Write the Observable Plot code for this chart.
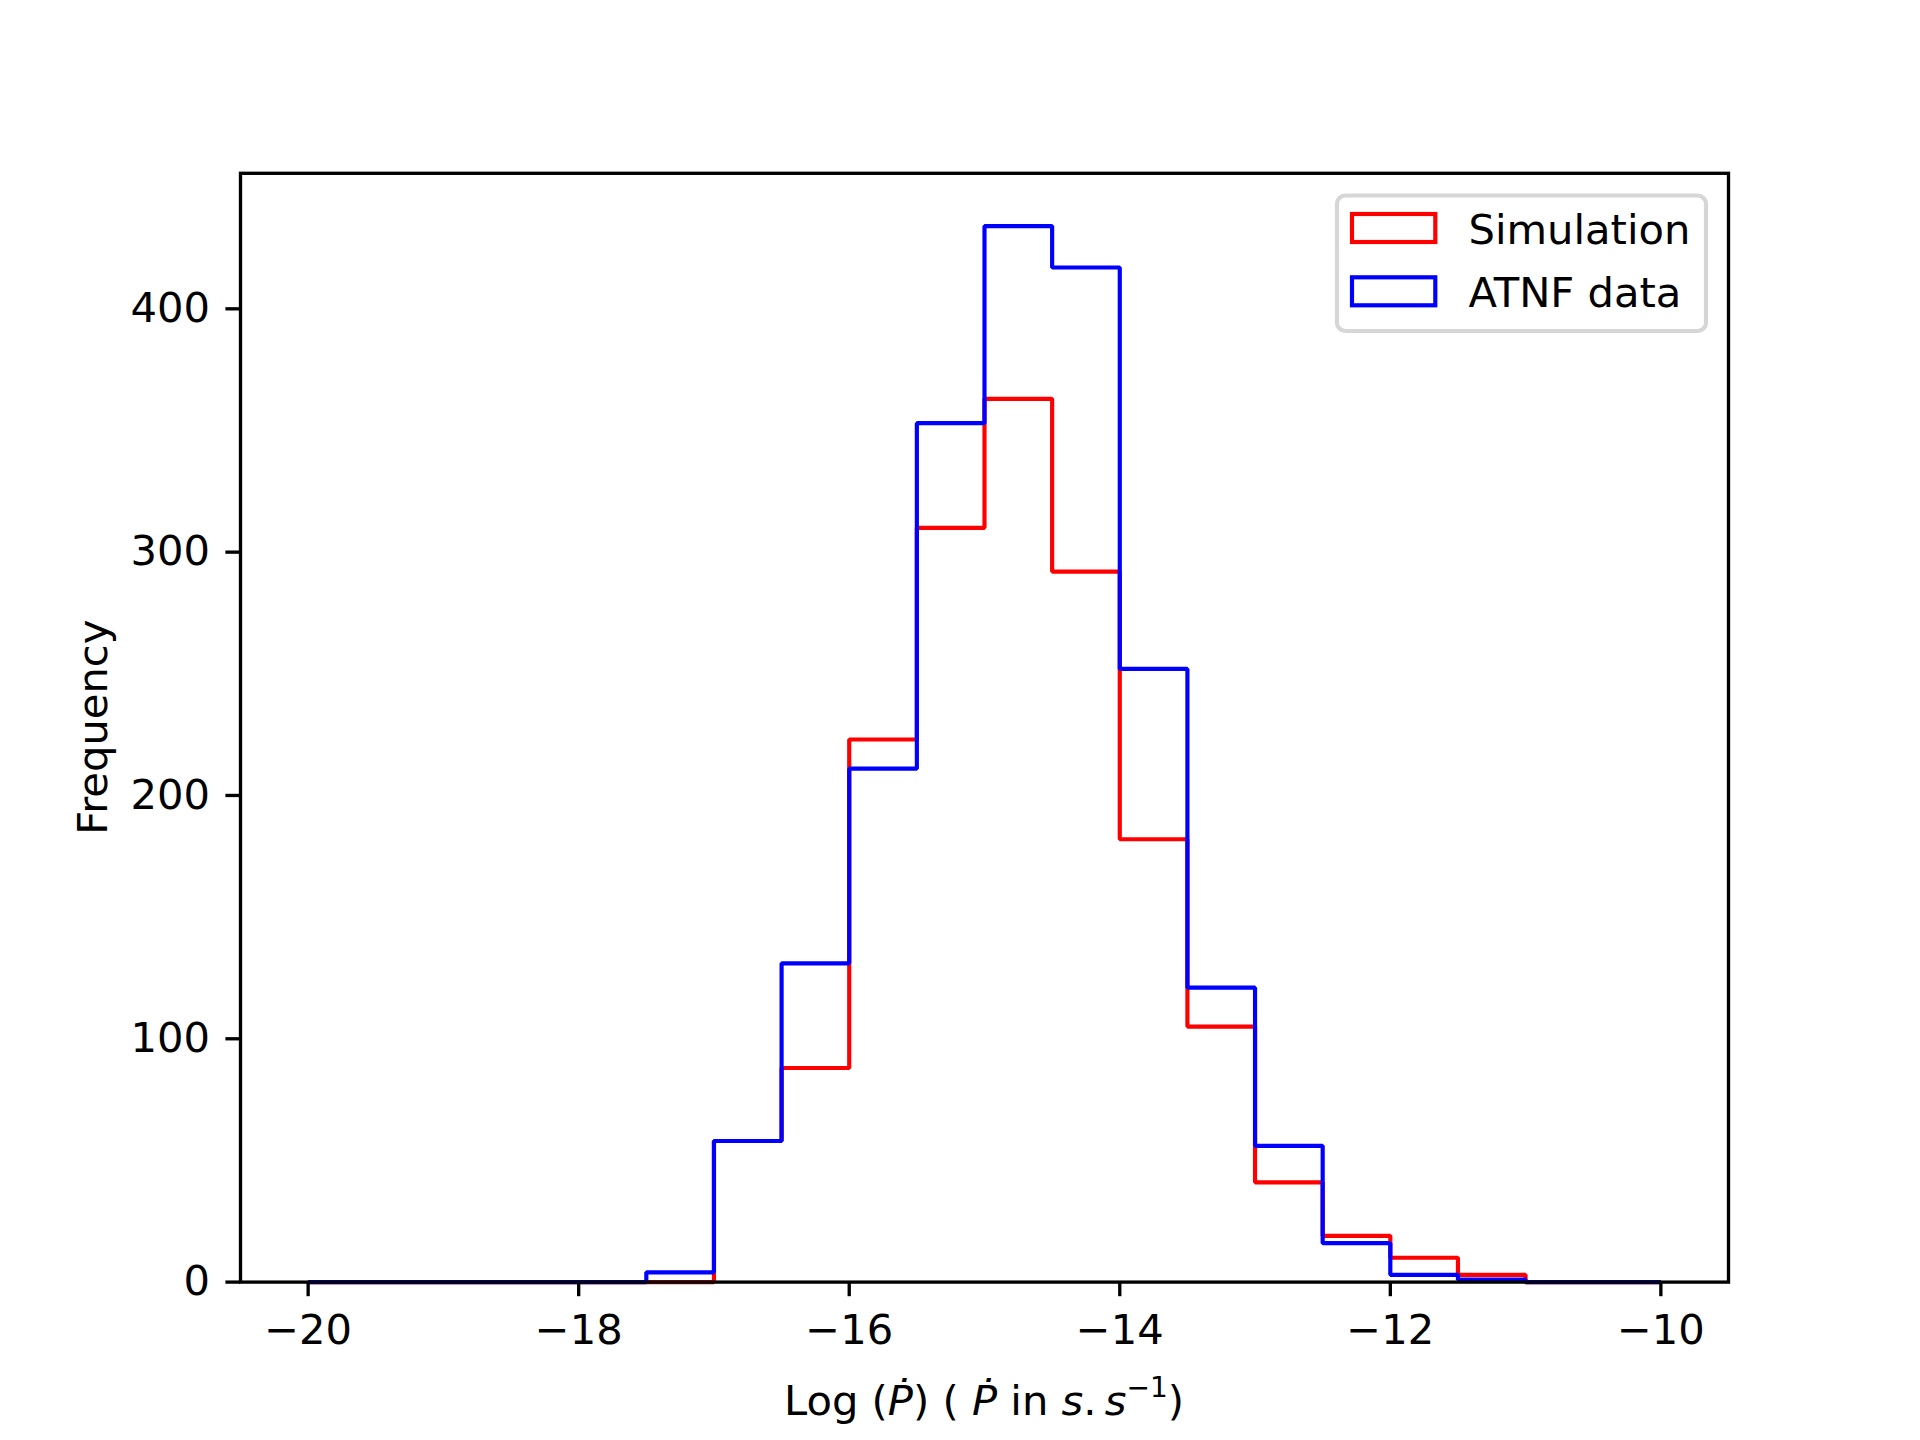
<!DOCTYPE html>
<html>
<head>
<meta charset="utf-8">
<script src="https://cdn.jsdelivr.net/npm/d3@7"></script>
<script src="https://cdn.jsdelivr.net/npm/@observablehq/plot@0.6"></script>
<style>
  body { margin: 0; background: #fff; }
  svg { font-family: "DejaVu Sans", sans-serif; }
</style>
</head>
<body>
<div id="chart"></div>
<script>
// ---- data ----
const binEdges = [-20, -19.5, -19, -18.5, -18, -17.5, -17, -16.5, -16, -15.5, -15,
                  -14.5, -14, -13.5, -13, -12.5, -12, -11.5, -11, -10.5, -10];
const simulationCounts = [0, 0, 0, 0, 0, 0, 58, 88, 223, 310, 363, 292, 182, 105, 41, 19, 10, 3, 0, 0];
const atnfCounts       = [0, 0, 0, 0, 0, 4, 58, 131, 211, 353, 434, 417, 252, 121, 56, 16, 3, 1, 0, 0];
const seriesNames  = ["Simulation", "ATNF data"];
const seriesColors = ["#ff0000", "#0000ff"];
const xTicks = [-20, -18, -16, -14, -12, -10];
const yTicks = [0, 100, 200, 300, 400];
const yLabel = "Frequency";

// step outline like matplotlib histtype="step"
function stepPoints(counts) {
  const pts = [{x: binEdges[0], y: 0}];
  counts.forEach((c, i) => {
    pts.push({x: binEdges[i], y: c});
    pts.push({x: binEdges[i + 1], y: c});
  });
  pts.push({x: binEdges[binEdges.length - 1], y: 0});
  return pts;
}
const allCounts = simulationCounts.concat(atnfCounts);
const yMax = d3.max(allCounts) * 1.05;
const xPad = (binEdges[binEdges.length - 1] - binEdges[0]) * 0.05;

const FS = 41.67;
const lineStyle = {strokeWidth: 4.17, strokeLinejoin: "miter", strokeLinecap: "butt"};

const plot = Plot.plot({
  width: 1920,
  height: 1440,
  marginLeft: 240,
  marginRight: 192,
  marginTop: 172.8,
  marginBottom: 158.4,
  style: {fontFamily: "DejaVu Sans", fontSize: FS + "px", background: "white", color: "black"},
  x: {domain: [binEdges[0] - xPad, binEdges[binEdges.length - 1] + xPad]},
  y: {domain: [0, yMax]},
  marks: [
    Plot.line(stepPoints(simulationCounts), {x: "x", y: "y", stroke: seriesColors[0], ...lineStyle}),
    Plot.line(stepPoints(atnfCounts), {x: "x", y: "y", stroke: seriesColors[1], ...lineStyle}),
    Plot.frame({stroke: "black", strokeWidth: 3.33}),
    Plot.axisX({ticks: xTicks, tickFormat: d3.format("d"), tickSize: 14.6, tickPadding: 17.5,
                strokeWidth: 3.33, label: null, fontSize: FS}),
    Plot.axisY({ticks: yTicks, tickFormat: d3.format("d"), tickSize: 14.6, tickPadding: 16,
                strokeWidth: 3.33, label: null, fontSize: FS})
  ]
});
document.getElementById("chart").appendChild(plot);

const svg = d3.select(plot);
const xs = plot.scale("x"), ys = plot.scale("y");
const cx = (xs.range[0] + xs.range[1]) / 2;
const cy = (ys.range[0] + ys.range[1]) / 2;

// x label (mathtext-like)
const xl = svg.append("text")
  .attr("x", cx).attr("y", 1415)
  .attr("text-anchor", "middle")
  .attr("font-size", FS).attr("fill", "black")
  .attr("font-family", "DejaVu Sans");
const parts = [
  ["Log (", null], ["\u1E56", "italic"], [") ( ", null], ["\u1E56", "italic"], [" in ", null],
  ["s", "italic"], [".\u2009", null], ["s", "italic"]
];
parts.forEach(([t, st]) => {
  const ts = xl.append("tspan").text(t);
  if (st) ts.attr("font-style", st);
});
xl.append("tspan").attr("font-size", 28).attr("dy", -18).text("\u22121");
xl.append("tspan").attr("dy", 18).text(")");

// y label
svg.append("text")
  .attr("transform", `translate(107,${cy}) rotate(-90)`)
  .attr("text-anchor", "middle")
  .attr("font-size", FS).attr("fill", "black")
  .attr("font-family", "DejaVu Sans")
  .text(yLabel);

// legend
const lg = svg.append("g").attr("text-anchor", "start");
lg.append("rect")
  .attr("x", 1337).attr("y", 195.5).attr("width", 369).attr("height", 135.5)
  .attr("rx", 8.3).attr("ry", 8.3)
  .attr("fill", "white").attr("fill-opacity", 0.8)
  .attr("stroke", "#cccccc").attr("stroke-opacity", 0.8).attr("stroke-width", 4.17);
seriesNames.forEach((name, i) => {
  const rowC = 228 + i * 63.3;
  lg.append("rect")
    .attr("x", 1352).attr("y", rowC - 14).attr("width", 83.3).attr("height", 28)
    .attr("fill", "none").attr("stroke", seriesColors[i]).attr("stroke-width", 4.17)
    .attr("stroke-linejoin", "miter");
  lg.append("text")
    .attr("x", 1468.5).attr("y", rowC + 15.8)
    .attr("text-anchor", "start")
    .attr("font-size", FS).attr("fill", "black")
    .attr("font-family", "DejaVu Sans")
    .text(name);
});
</script>
</body>
</html>
